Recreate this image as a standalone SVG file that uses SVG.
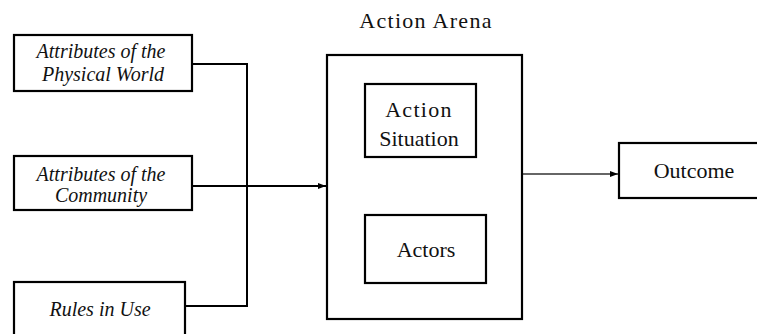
<svg xmlns="http://www.w3.org/2000/svg" width="757" height="334" viewBox="0 0 757 334">
<style>
.box{fill:#fff;stroke:#000;stroke-width:2.2}
.t{font-family:"Liberation Serif","Times New Roman",serif;font-size:22px;fill:#111;text-anchor:middle}
.sp{letter-spacing:1.3px}
.i{font-family:"Liberation Serif","Times New Roman",serif;font-size:20px;font-style:italic;fill:#111;text-anchor:middle}
.c{fill:none;stroke:#000;stroke-width:2}
.c2{fill:none;stroke:#333;stroke-width:1.3}
</style>
<defs>
<marker id="ah" markerWidth="8" markerHeight="6" refX="8" refY="3" orient="auto" markerUnits="userSpaceOnUse">
<path d="M0,0 L8,3 L0,6 z" fill="#000"/>
</marker>
</defs>
<text class="t sp" x="426" y="28">Action Arena</text>
<g id="connectors">
<polyline class="c" points="192,64 247,64 247,306 185,306"/>
<line class="c" x1="192" y1="186" x2="326" y2="186" marker-end="url(#ah)"/>
<line class="c2" x1="522" y1="174" x2="618" y2="174" marker-end="url(#ah)"/>
</g>
<g id="physical-world">
<rect class="box" x="14" y="35" width="178" height="56"/>
<text class="i" x="101" y="58">Attributes of the</text>
<text class="i" x="103" y="81">Physical World</text>
</g>
<g id="community">
<rect class="box" x="14" y="156" width="178" height="54"/>
<text class="i" x="101" y="181">Attributes of the</text>
<text class="i" x="101" y="202">Community</text>
</g>
<g id="rules-in-use">
<rect class="box" x="14" y="282" width="171" height="60"/>
<text class="i" x="100" y="316">Rules in Use</text>
</g>
<g id="action-arena">
<rect class="box" x="327" y="55" width="195" height="264"/>
</g>
<g id="action-situation">
<rect class="box" x="365" y="84" width="111" height="73"/>
<text class="t sp" x="419" y="117">Action</text>
<text class="t" x="419" y="146">Situation</text>
</g>
<g id="actors">
<rect class="box" x="365" y="215" width="121" height="68"/>
<text class="t" x="426" y="257">Actors</text>
</g>
<g id="outcome">
<rect class="box" x="619" y="143" width="150" height="55"/>
<text class="t" x="694" y="178">Outcome</text>
</g>
</svg>
